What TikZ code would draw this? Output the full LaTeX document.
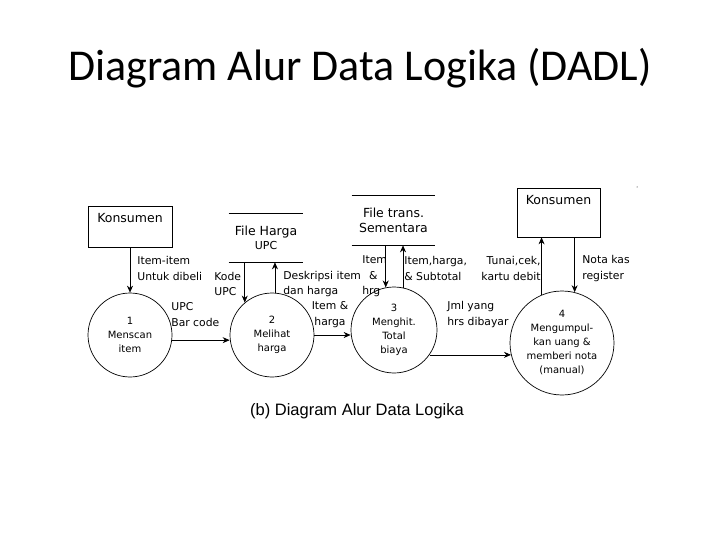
\documentclass[tikz,border=0pt]{standalone}
\usepackage{fontspec}
\setmainfont{DejaVu Sans}
\newfontfamily\titlefont{Carlito}
\newfontfamily\capfont{Liberation Sans}
\usetikzlibrary{arrows.meta}
\begin{document}
\begin{tikzpicture}[x=1pt,y=-1pt,
  lbl/.style={font=\fontsize{10.8}{15.5}\selectfont,inner sep=0pt},
  proc/.style={draw,circle,font=\fontsize{10}{14}\selectfont,align=center,inner sep=0pt},
  ent/.style={draw,inner sep=0pt},
  store/.style={font=\fontsize{12.5}{15}\selectfont,align=center,inner sep=0pt},
  flow/.style={-{Stealth[length=7pt,width=6pt]},line width=0.7pt},
  every path/.style={line width=0.7pt}]
\useasboundingbox (0,0) rectangle (720,540);
\node[font=\titlefont\fontsize{44}{46}\selectfont] (title) at (360,68) {Diagram Alur Data Logika (DADL)};
\node[ent,minimum width=84,minimum height=41] (k1) at (130,226.5) {};
\node[font=\fontsize{12.5}{14}\selectfont,anchor=north] at (k1.north) [yshift=-4] {Konsumen};
\node[ent,minimum width=83,minimum height=49] (k2) at (558.5,212.5) {};
\node[font=\fontsize{12.5}{14}\selectfont,anchor=north] at (k2.north) [yshift=-4] {Konsumen};
\node[store,minimum width=74,minimum height=48] (fh) at (266,238) {File Harga\\[-1pt]{\fontsize{11}{13}\selectfont UPC}};
\draw (fh.north west) -- (fh.north east) (fh.south west) -- (fh.south east);
\node[store,minimum width=83,minimum height=49] (ft) at (393.5,220.5) {File trans.\\Sementara};
\draw (ft.north west) -- (ft.north east) (ft.south west) -- (ft.south east);
\node[proc,minimum size=84] (c1) at (130,335) {1\\Menscan\\item};
\node[proc,minimum size=84] (c2) at (272,335) {2\\Melihat\\harga};
\node[proc,minimum size=86] (c3) at (394,330) {3\\Menghit.\\Total\\biaya};
\node[proc,minimum size=104] (c4) at (562,343) {4\\Mengumpul-\\kan uang \&\\memberi nota\\(manual)};
\draw[flow] (k1.south) -- (c1.north);
\draw[flow] (c1.-7) -- (c1.-7 -| c2.west);
\draw[flow] (fh.south -| c2.130) -- (c2.130);
\draw[flow] (c2.86) -- (c2.86 |- fh.south);
\draw[flow] (c2.east) -- (c3.west |- c2.east);
\draw[flow] (ft.south -| c3.101) -- (c3.101);
\draw[flow] (c3.78) -- (c3.78 |- ft.south);
\coordinate (e3) at (c3.-35);
\draw[flow] (e3) -- (511,0 |- e3);
\draw[flow] (c4.113) -- (c4.113 |- k2.south);
\draw[flow] (k2.south -| c4.76) -- (c4.76);
\node[lbl,align=left,anchor=west] (l1) at (137,268.5) {Item-item\\Untuk dibeli};
\node[lbl,align=left,anchor=west] (l2) at (171,314.5) {UPC\\Bar code};
\node[lbl,align=left,anchor=west] (l3) at (214,284) {Kode\\UPC};
\node[lbl,align=left,anchor=west] (l4) at (283,284) {Deskripsi item\\dan harga};
\node[lbl,align=center] (l5) at (330,314.5) {Item \&\\harga};
\node[lbl,align=left,anchor=west] (l6) at (362,276.5) {Item\\\ \ \&\\hrg};
\node[lbl,align=left,anchor=west] (l7) at (404,268.5) {Item,harga,\\\& Subtotal};
\node[lbl,align=left,anchor=west] (l8) at (447,314.5) {Jml yang\\hrs dibayar};
\node[lbl,align=right,anchor=east] (l9) at (541,268.5) {Tunai,cek,\\kartu debit};
\node[lbl,align=left,anchor=west] (l10) at (582,268.5) {Nota kas\\register};
\node[font=\capfont\fontsize{16.5}{18}\selectfont] (cap) at (357,411) {(b) Diagram Alur Data Logika};
\fill (637,187) circle (0.5);
\end{tikzpicture}
\end{document}
